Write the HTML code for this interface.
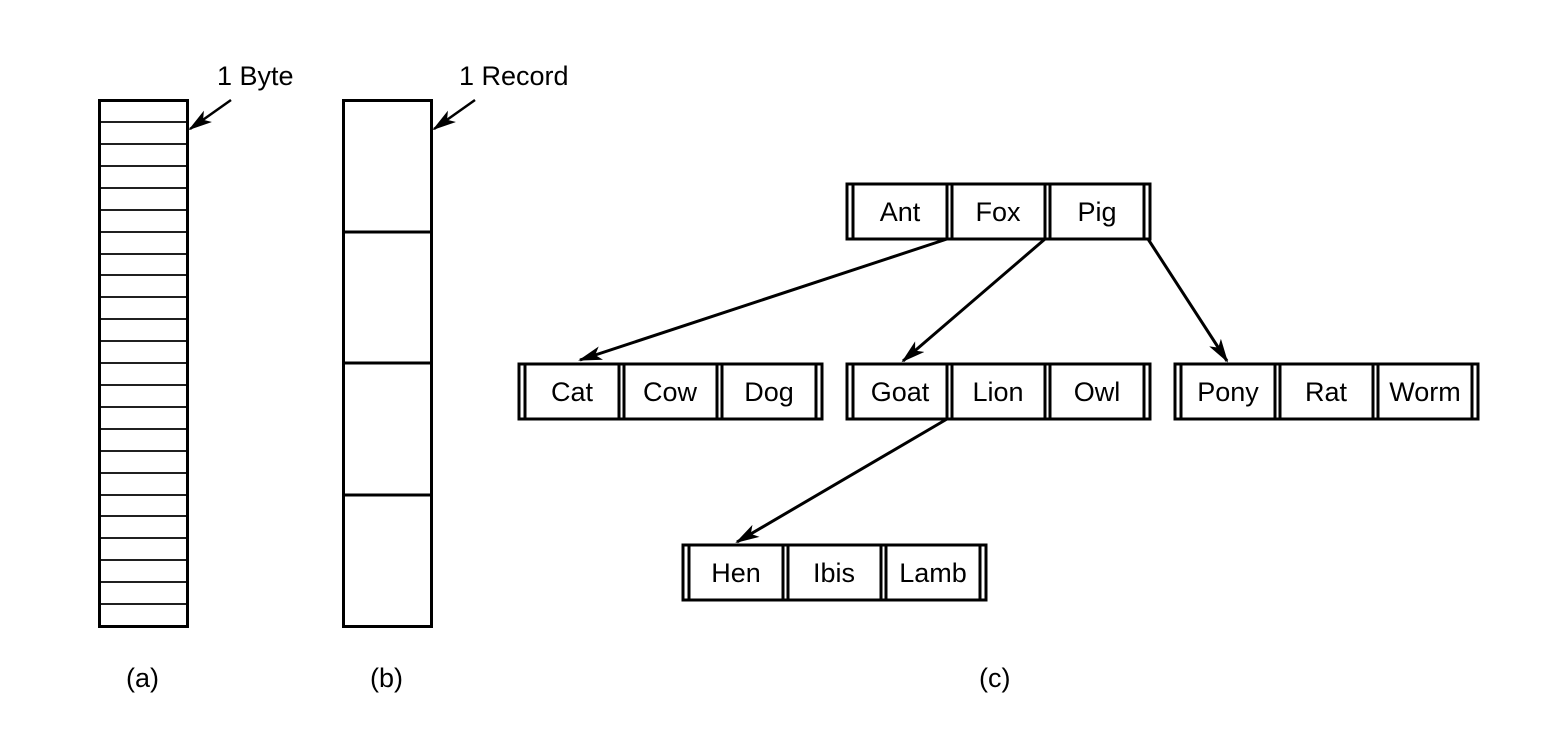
<!DOCTYPE html>
<html><head><style>body{margin:0;background:#fff}svg{display:block}</style></head><body>
<svg width="1568" height="732" viewBox="0 0 1568 732" xmlns="http://www.w3.org/2000/svg" font-family="Liberation Sans, sans-serif" font-size="27">
<defs><marker id="ah" markerWidth="24" markerHeight="14" refX="22" refY="7" orient="auto" markerUnits="userSpaceOnUse"><path d="M0,0 L24,7 L0,14 L6,7 z" fill="#000"/></marker></defs>
<g stroke="#000" fill="none">
<rect x="99.5" y="100.5" width="88" height="526" stroke-width="3"/>
<g stroke-width="1.8">
<line x1="99" x2="187" y1="122" y2="122"/><line x1="99" x2="187" y1="144" y2="144"/><line x1="99" x2="187" y1="166" y2="166"/><line x1="99" x2="187" y1="188" y2="188"/><line x1="99" x2="187" y1="210" y2="210"/><line x1="99" x2="187" y1="232" y2="232"/><line x1="99" x2="187" y1="254" y2="254"/><line x1="99" x2="187" y1="275" y2="275"/><line x1="99" x2="187" y1="297" y2="297"/><line x1="99" x2="187" y1="319" y2="319"/><line x1="99" x2="187" y1="341" y2="341"/><line x1="99" x2="187" y1="363" y2="363"/><line x1="99" x2="187" y1="385" y2="385"/><line x1="99" x2="187" y1="407" y2="407"/><line x1="99" x2="187" y1="429" y2="429"/><line x1="99" x2="187" y1="451" y2="451"/><line x1="99" x2="187" y1="473" y2="473"/><line x1="99" x2="187" y1="495" y2="495"/><line x1="99" x2="187" y1="516" y2="516"/><line x1="99" x2="187" y1="538" y2="538"/><line x1="99" x2="187" y1="560" y2="560"/><line x1="99" x2="187" y1="582" y2="582"/><line x1="99" x2="187" y1="604" y2="604"/>
</g>
<rect x="343.5" y="100.5" width="88" height="526" stroke-width="3"/>
<line x1="343" y1="232" x2="431" y2="232" stroke-width="3"/>
<line x1="343" y1="363" x2="431" y2="363" stroke-width="3"/>
<line x1="343" y1="495" x2="431" y2="495" stroke-width="3"/>
<line x1="231" y1="100" x2="190" y2="129" stroke-width="2.5" marker-end="url(#ah)"/>
<line x1="475" y1="100" x2="434" y2="129" stroke-width="2.5" marker-end="url(#ah)"/>
<g stroke-width="3">
<line x1="947" y1="239" x2="580" y2="360" marker-end="url(#ah)"/>
<line x1="1045" y1="239" x2="903" y2="361" marker-end="url(#ah)"/>
<line x1="1148" y1="239" x2="1227" y2="361" marker-end="url(#ah)"/>
<line x1="947" y1="419" x2="737" y2="542" marker-end="url(#ah)"/>
</g>
<g stroke-width="3">
<rect x="847" y="184" width="303" height="55"/>
<path d="M853,184v55M947,184v55M952,184v55M1045,184v55M1050,184v55M1144,184v55"/>
<rect x="519" y="364" width="303" height="55"/>
<path d="M525,364v55M619,364v55M624,364v55M717,364v55M722,364v55M816,364v55"/>
<rect x="847" y="364" width="303" height="55"/>
<path d="M853,364v55M947,364v55M952,364v55M1045,364v55M1050,364v55M1144,364v55"/>
<rect x="1175" y="364" width="303" height="55"/>
<path d="M1181,364v55M1275,364v55M1280,364v55M1373,364v55M1378,364v55M1472,364v55"/>
<rect x="683" y="545" width="303" height="55"/>
<path d="M689,545v55M783,545v55M788,545v55M881,545v55M886,545v55M980,545v55"/>
</g>
</g>
<g text-anchor="middle">
<text x="900" y="221">Ant</text><text x="998" y="221">Fox</text><text x="1097" y="221">Pig</text>
<text x="572" y="401">Cat</text><text x="670" y="401">Cow</text><text x="769" y="401">Dog</text>
<text x="900" y="401">Goat</text><text x="998" y="401">Lion</text><text x="1097" y="401">Owl</text>
<text x="1228" y="401">Pony</text><text x="1326" y="401">Rat</text><text x="1425" y="401">Worm</text>
<text x="736" y="582">Hen</text><text x="834" y="582">Ibis</text><text x="933" y="582">Lamb</text>
</g>
<text x="217" y="85">1 Byte</text>
<text x="459" y="85">1 Record</text>
<text x="126" y="687">(a)</text>
<text x="370" y="687">(b)</text>
<text x="979" y="687">(c)</text>
</svg>
</body></html>
